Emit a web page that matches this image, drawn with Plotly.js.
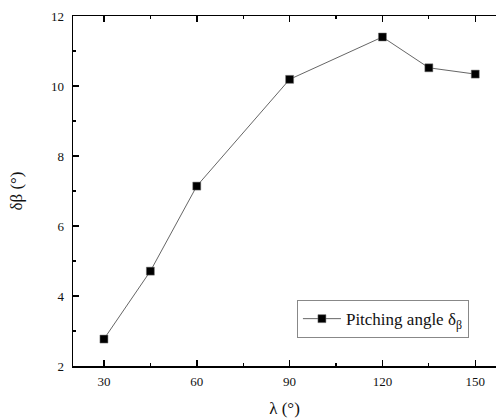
<!DOCTYPE html>
<html>
<head>
<meta charset="utf-8">
<script src="https://cdn.plot.ly/plotly-3.0.1.min.js"></script>
<style>html,body{margin:0;padding:0;background:#fff;}#chart{width:496px;height:418px;}</style>
</head>
<body>
<div id="chart"></div>
<script>
const lambdaDeg = [30, 45, 60, 90, 120, 135, 150];
const pitchingAngle = [2.77, 4.71, 7.14, 10.19, 11.4, 10.52, 10.34];
const seriesName = 'Pitching angle δ<sub>β</sub>';
const xTitle = 'λ (°)';
const yTitle = 'δβ (°)';
const xTicks = [30, 60, 90, 120, 150];
const yTicks = [2, 4, 6, 8, 10, 12];

const font = '"Liberation Serif", "Times New Roman", serif';

const trace = {
  x: lambdaDeg,
  y: pitchingAngle,
  name: seriesName,
  type: 'scatter',
  mode: 'lines+markers',
  line: {color: '#666', width: 1},
  marker: {symbol: 'square', size: 8, color: '#000', line: {color: '#777', width: 0.5}},
  showlegend: true
};

const layout = {
  width: 496, height: 418,
  margin: {l: 73, r: 0, t: 16, b: 52},
  paper_bgcolor: '#fff', plot_bgcolor: '#fff',
  font: {family: font, color: '#111', size: 13},
  showlegend: true,
  xaxis: {
    range: [20, 156.7],
    tickvals: xTicks,
    ticks: 'inside', ticklen: 6, tickwidth: 1.5, tickcolor: '#000',
    showline: true, linecolor: '#000', linewidth: 1.5, mirror: 'ticks',
    showgrid: false, zeroline: false,
    minor: {dtick: 15, tick0: 0, ticks: 'inside', ticklen: 3, tickwidth: 1.2, tickcolor: '#000', showgrid: false},
    tickfont: {family: font, size: 13, color: '#111'},
    ticklabelstandoff: 3,
    title: {text: xTitle, font: {family: font, size: 17, color: '#111'}, standoff: 16}
  },
  yaxis: {
    range: [2, 12],
    tickvals: yTicks,
    ticks: 'inside', ticklen: 6, tickwidth: 1.5, tickcolor: '#000',
    showline: true, linecolor: '#000', linewidth: 1.5, mirror: false,
    showgrid: false, zeroline: false,
    minor: {dtick: 1, tick0: 0, ticks: 'inside', ticklen: 3, tickwidth: 1.2, tickcolor: '#000', showgrid: false},
    tickfont: {family: font, size: 13, color: '#111'},
    ticklabelstandoff: 5,
    title: {text: yTitle, font: {family: font, size: 17, color: '#111'}, standoff: 24}
  },
  legend: {
    x: 0.936, xanchor: 'right', y: 0.134, yanchor: 'middle',
    bgcolor: '#fff', bordercolor: '#888', borderwidth: 1,
    font: {family: font, size: 17, color: '#111'},
    itemwidth: 38,
    tracegroupgap: 0
  }
};

Plotly.newPlot('chart', [trace], layout, {displayModeBar: false, staticPlot: true});
</script>
</body>
</html>
